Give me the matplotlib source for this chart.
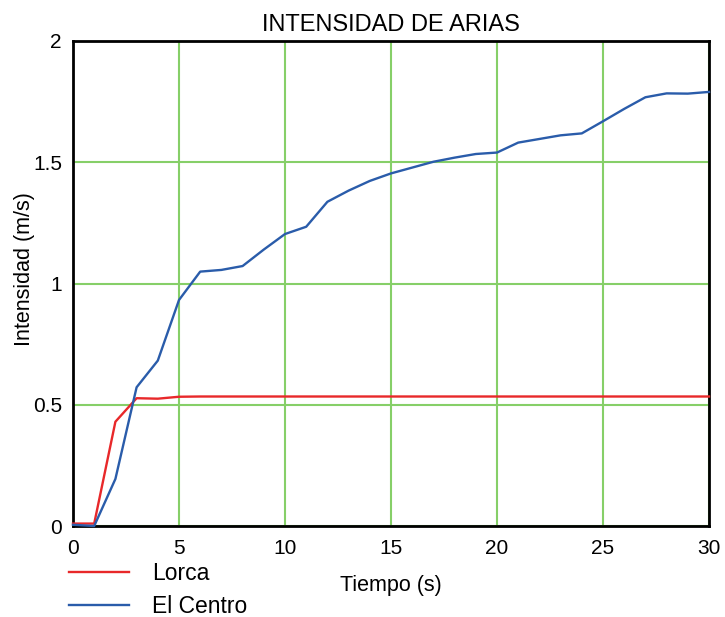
import matplotlib
matplotlib.use('Agg')
import matplotlib.pyplot as plt

plt.rcParams['font.family'] = ['Liberation Sans', 'DejaVu Sans']

tiempo = list(range(0, 31))
lorca = [0.01, 0.01, 0.43, 0.527, 0.525, 0.533, 0.534, 0.534, 0.534, 0.534,
         0.534, 0.534, 0.534, 0.534, 0.534, 0.534, 0.534, 0.534, 0.534, 0.534,
         0.534, 0.534, 0.534, 0.534, 0.534, 0.534, 0.534, 0.534, 0.534, 0.534,
         0.534]
el_centro = [0.005, 0.0, 0.194, 0.572, 0.682, 0.932, 1.049, 1.056, 1.072, 1.14,
             1.204, 1.234, 1.337, 1.383, 1.423, 1.454, 1.478, 1.502, 1.519, 1.534,
             1.540, 1.581, 1.596, 1.611, 1.619, 1.669, 1.720, 1.768, 1.784, 1.783,
             1.790]

fig = plt.figure(figsize=(7.25, 6.17), dpi=100)
ax = fig.add_axes([73/725, 1 - 526/617, 636/725, 485/617])

ax.plot(tiempo, lorca, color='#e8282a', lw=1.7, label='Lorca', zorder=3, clip_on=False)
ax.plot(tiempo, el_centro, color='#2a5caa', lw=1.7, label='El Centro', zorder=3, clip_on=False)

ax.set_xlim(0, 30)
ax.set_ylim(0, 2)
ax.set_xticks([0, 5, 10, 15, 20, 25, 30])
ax.set_yticks([0, 0.5, 1, 1.5, 2])
ax.set_yticklabels(['0', '0.5', '1', '1.5', '2'])
ax.grid(True, color='#86cf68', lw=1.5)
ax.set_axisbelow(True)
ax.tick_params(length=0, labelsize=15, pad=8)
ax.tick_params(axis='x', pad=9.5)
for s in ax.spines.values():
    s.set_linewidth(2)
    s.set_color('black')

ax.set_title('INTENSIDAD DE ARIAS', fontsize=17, pad=7)
ax.set_xlabel('Tiempo (s)', fontsize=15.5, labelpad=12)
ax.set_ylabel('Intensidad (m/s)', fontsize=15.5)
ax.yaxis.set_label_coords(-0.06, 0.53)

ax.legend(loc='upper left', bbox_to_anchor=(-0.02, -0.056), frameon=False,
          fontsize=16.5, handlelength=2.6, handletextpad=1.0, labelspacing=0.42,
          borderaxespad=0)

fig.savefig('out.png', dpi=100)
